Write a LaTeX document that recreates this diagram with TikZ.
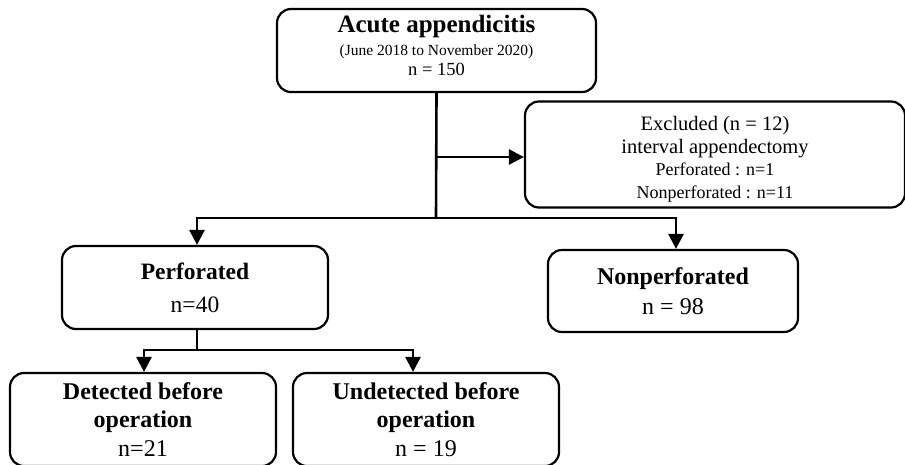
\documentclass[tikz,border=0pt]{standalone}
\usepackage{fontspec}
\setmainfont{Liberation Serif}
\usetikzlibrary{arrows.meta}

\begin{document}
\begin{tikzpicture}[x=1pt, y=-1pt,
    box/.style={draw, line width=2.2pt, rounded corners=14pt, align=center, inner sep=0pt},
    link/.style={line width=2.6pt},
    arrow/.style={line width=2.6pt, -{Triangle[length=15pt,width=15pt]}}]  % Begins a TikZ picture with pixel-like units
    \useasboundingbox (0,0) rectangle (905,464);  % Fixes the page size

    % Nodes
    \node (acute) [box, minimum width=319pt, minimum height=83pt, font=\fontsize{18.5}{20}\selectfont] at (436.5,50.5)
        {{\fontsize{25}{25}\selectfont\bfseries Acute appendicitis}\\[3pt]
         {\fontsize{15.5}{15.5}\selectfont (June 2018 to November 2020)}\\
         n = 150\rule[-10pt]{0pt}{10pt}};  % Defines the top box "acute"
    \node (excluded) [box, minimum width=380pt, minimum height=106pt, font=\fontsize{18}{22.5}\selectfont] at (715,154.5)
        {\rule{0pt}{24pt}{\fontsize{20.5}{20.5}\selectfont Excluded (n = 12)}\\ {\fontsize{20.5}{20.5}\selectfont interval appendectomy}\\ Perforated : n=1\\ Nonperforated : n=11};  % Defines the box "excluded" on the right
    \node (perforated) [box, minimum width=266pt, minimum height=83pt, font=\fontsize{23.5}{33}\selectfont] at (195,287.5)
        {\textbf{Perforated}\\ n=40};  % Defines the box "perforated" on the left
    \node (nonperforated) [box, minimum width=250pt, minimum height=82pt, font=\fontsize{24}{30}\selectfont] at (673,291)
        {\textbf{Nonperforated}\\ n = 98};  % Defines the box "nonperforated" on the right
    \node (detected) [box, minimum width=266pt, minimum height=93pt, font=\fontsize{24}{28.5}\selectfont] at (143,419.5)
        {\textbf{Detected before}\\ \textbf{operation}\\ n=21};  % Defines the box "detected" at the bottom left
    \node (undetected) [box, minimum width=266pt, minimum height=93pt, font=\fontsize{24}{28.5}\selectfont] at (426,419.5)
        {\textbf{Undetected before}\\ \textbf{operation}\\ n = 19};  % Defines the box "undetected" next to "detected"
    \coordinate (split) at (436,218);  % Branch point below "acute"
    \coordinate (split2) at (197,350);  % Branch point below "perforated"

    % Arrows
    \draw [link] (acute.south) -- (split);  % Draws the trunk from "acute" down to the branch point
    \draw [arrow] (acute.south |- 0,157) -- (excluded.west |- 0,157);  % Draws an arrow from the trunk to "excluded"
    \draw [arrow] (split) -| (perforated.north -| 197,0);  % Draws an arrow from the branch point to "perforated"
    \draw [arrow] (split) -| (nonperforated.north -| 676,0);  % Draws an arrow from the branch point to "nonperforated"
    \draw [link] (perforated.south -| split2) -- (split2);  % Draws the trunk from "perforated" down
    \draw [arrow] (split2) -| (detected.north -| 144,0);  % Draws an arrow to "detected"
    \draw [arrow] (split2) -| (undetected.north -| 413,0);  % Draws an arrow to "undetected"
\end{tikzpicture}
\end{document}
